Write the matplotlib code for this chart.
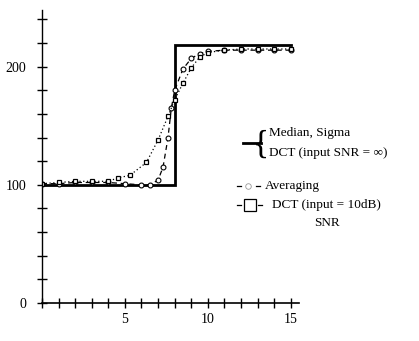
import matplotlib
matplotlib.use("Agg")
import matplotlib.pyplot as plt
from matplotlib.lines import Line2D

plt.rcParams['font.family'] = ['Liberation Serif', 'DejaVu Serif']

# step response (noise free input): Median, Sigma and DCT all coincide
x_ideal = [0, 8, 8, 15]
y_ideal = [100, 100, 218, 218]

# Averaging filter
x_avg = [0, 1, 2, 3, 4, 5, 6, 6.5, 7, 7.3, 7.6, 7.8, 8, 8.5, 9, 9.5, 10, 11, 12, 13, 14, 15]
y_avg = [101, 101, 102, 102, 102, 101, 100, 100, 104, 115, 140, 165, 180, 198, 207, 211, 213, 214, 214, 214, 214, 214]

# DCT with 10dB input SNR
x_dct = [0, 1, 2, 3, 4, 4.6, 5.3, 6.3, 7.0, 7.6, 8.0, 8.5, 9.0, 9.5, 10, 11, 12, 13, 14, 15]
y_dct = [101, 102, 103, 103, 103, 106, 108, 119, 138, 158, 172, 186, 199, 208, 212, 214, 215, 215, 215, 215]

W, H = 419, 341
fig = plt.figure(figsize=(W / 100, H / 100), dpi=100)


def px(x, y):
    return x / W, 1 - y / H


def seg(x0, x1, y, **kw):
    (a, b), (c, d) = px(x0, y), px(x1, y)
    fig.add_artist(Line2D([a, c], [b, d], transform=fig.transFigure, color='black', **kw))


def mark(x, y, **kw):
    a, b = px(x, y)
    fig.add_artist(Line2D([a], [b], transform=fig.transFigure, color='black', ls='none', **kw))


ax = fig.add_axes([42 / W, 1 - 303 / H, (299 - 42) / W, (303 - 10) / H])
ax.plot(x_ideal, y_ideal, color='black', lw=2.0, solid_joinstyle='miter')
ax.plot(x_avg, y_avg, color='black', lw=0.9, ls=(0, (4, 3)),
        marker='o', ms=3.5, mfc='white', mew=0.8)
ax.plot(x_dct, y_dct, color='black', lw=0.9, ls=(0, (1, 2)),
        marker='s', ms=3.5, mfc='white', mew=0.9)

ax.set_xlim(0, 15.5)
ax.set_ylim(0, 248)
ax.set_xticks(range(0, 16))
ax.set_xticklabels(['5' if i == 5 else '10' if i == 10 else '15' if i == 15 else '' for i in range(16)])
ax.set_yticks(range(0, 241, 20))
ax.set_yticklabels([str(v) if v in (0, 100, 200) else '' for v in range(0, 241, 20)])
ax.tick_params(direction='inout', length=7, width=1, labelsize=10, pad=4)
ax.tick_params(axis='y', pad=8)
for s in ('top', 'right'):
    ax.spines[s].set_visible(False)
ax.spines['left'].set_linewidth(1.0)
ax.spines['bottom'].set_linewidth(1.2)
ax.patch.set_visible(False)

# hand drawn legend
fs = 9.5
seg(243, 261, 143, lw=2.0)
fig.text(*px(261, 144), '{', fontsize=24, va='center', ha='center')
fig.text(*px(269, 133), 'Median, Sigma', fontsize=fs, va='center')
fig.text(*px(269, 153), 'DCT (input SNR = \u221e)', fontsize=fs, va='center')

seg(237, 241, 186, lw=0.9)
seg(256, 260, 186, lw=0.9)
mark(248, 186, marker='o', ms=4, mfc='white', mec='0.6', mew=0.6)
fig.text(*px(265, 186), 'Averaging', fontsize=fs, va='center')

seg(237, 241, 205, lw=0.9)
seg(258, 262, 205, lw=0.9)
mark(250, 205, marker='s', ms=9, mfc='white', mew=0.9)
fig.text(*px(272, 205), 'DCT (input = 10dB)', fontsize=fs, va='center')
fig.text(*px(327, 223), 'SNR', fontsize=fs, va='center', ha='center')

fig.savefig('out.png', dpi=100)
